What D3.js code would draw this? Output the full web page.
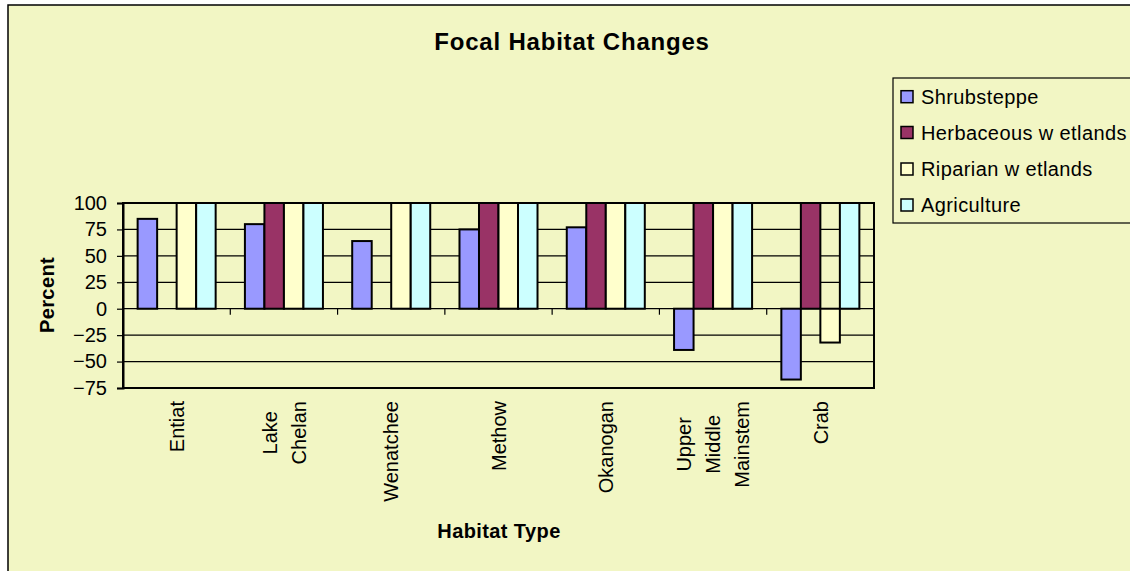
<!DOCTYPE html>
<html>
<head>
<meta charset="utf-8">
<script src="https://cdn.jsdelivr.net/npm/d3@7"></script>
<style>
  html, body { margin: 0; padding: 0; background: #ffffff; }
  svg { display: block; font-family: Arial, "Liberation Sans", sans-serif; }
</style>
</head>
<body>
<svg id="chart" width="1130" height="571"></svg>
<script>
// ---- data ----
const categories = ["Entiat", "Lake Chelan", "Wenatchee", "Methow", "Okanogan", "Upper Middle Mainstem", "Crab"];
const categoryLines = [["Entiat"], ["Lake", "Chelan"], ["Wenatchee"], ["Methow"], ["Okanogan"], ["Upper", "Middle", "Mainstem"], ["Crab"]];
const seriesNames = ["Shrubsteppe", "Herbaceous w etlands", "Riparian w etlands", "Agriculture"];
const shrubsteppe = [85, 80, 64, 75, 77, -39, -67];
const herbaceousWetlands = [null, 100, null, 100, 100, 100, 100];
const riparianWetlands = [100, 100, 100, 100, 100, 100, -32];
const agriculture = [100, 100, 100, 100, 100, 100, 100];
const yTicks = [100, 75, 50, 25, 0, -25, -50, -75];
const seriesColors = ["#9999FF", "#993366", "#FFFFCC", "#CCFFFF"];
const titleText = "Focal Habitat Changes";
const xTitle = "Habitat Type";
const yTitle = "Percent";

const seriesValues = [shrubsteppe, herbaceousWetlands, riparianWetlands, agriculture];
const bg = "#F2F6C4";

const svg = d3.select("#chart");

// chart area background / border (extends beyond right & bottom)
svg.append("rect").attr("x", 8).attr("y", 5).attr("width", 1140).attr("height", 600)
  .attr("fill", bg).attr("stroke", "#000").attr("stroke-width", 1.5);

const plot = { left: 123, right: 874, top: 203, bottom: 388 };

const x = d3.scaleBand().domain(categories).range([plot.left, plot.right]).paddingInner(0).paddingOuter(0);
const xs = d3.scaleBand().domain(seriesNames).range([0, x.bandwidth()]).paddingInner(0).paddingOuter(0.75);
const y = d3.scaleLinear().domain([-75, 100]).range([plot.bottom, plot.top]);

// gridlines
svg.append("g").selectAll("line").data(yTicks.filter(v => v !== 0 && v !== 100 && v !== -75))
  .join("line")
  .attr("x1", plot.left).attr("x2", plot.right)
  .attr("y1", d => y(d)).attr("y2", d => y(d))
  .attr("stroke", "#000").attr("stroke-width", 1.2);

// zero line
svg.append("line").attr("x1", plot.left).attr("x2", plot.right)
  .attr("y1", y(0)).attr("y2", y(0)).attr("stroke", "#000").attr("stroke-width", 1.2);

// x ticks between categories on zero line
svg.append("g").selectAll("line").data(categories.slice(1))
  .join("line")
  .attr("x1", d => x(d)).attr("x2", d => x(d))
  .attr("y1", y(0)).attr("y2", y(0) + 6)
  .attr("stroke", "#000").attr("stroke-width", 1.2);

// bars
const flat = [];
categories.forEach((c, ci) => {
  seriesNames.forEach((s, si) => {
    const v = seriesValues[si][ci];
    if (v !== null && v !== undefined) flat.push({ c, s, si, v });
  });
});
svg.append("g").selectAll("rect").data(flat).join("rect")
  .attr("x", d => x(d.c) + xs(d.s))
  .attr("width", xs.bandwidth())
  .attr("y", d => y(Math.max(0, d.v)))
  .attr("height", d => Math.abs(y(d.v) - y(0)))
  .attr("fill", d => seriesColors[d.si])
  .attr("stroke", "#000").attr("stroke-width", 2);

// plot frame
svg.append("rect").attr("x", plot.left).attr("y", plot.top)
  .attr("width", plot.right - plot.left).attr("height", plot.bottom - plot.top)
  .attr("fill", "none").attr("stroke", "#000").attr("stroke-width", 2);

// y axis
const yAxis = d3.axisLeft(y).tickValues(yTicks).tickSize(6).tickPadding(10).tickFormat(d3.format("d"));
const yg = svg.append("g").attr("transform", `translate(${plot.left},0)`).call(yAxis);
yg.select(".domain").attr("stroke", "#000").attr("stroke-width", 2);
yg.selectAll(".tick line").attr("stroke", "#000").attr("stroke-width", 1.2);
yg.selectAll(".tick text").attr("font-size", 20).attr("fill", "#000")
  .attr("font-family", "Arial, 'Liberation Sans', sans-serif");

// category labels (rotated)
const labelTop = 401;
const lineGap = 29;
categoryLines.forEach((lines, ci) => {
  const cx = x(categories[ci]) + x.bandwidth() / 2;
  const g = svg.append("g").attr("transform", `translate(${cx},${labelTop}) rotate(-90)`);
  const texts = g.selectAll("text").data(lines).join("text")
    .attr("font-size", 20).attr("fill", "#000")
    .attr("text-anchor", "middle")
    .attr("dy", "0.36em")
    .attr("y", (d, i) => (i - (lines.length - 1) / 2) * lineGap)
    .text(d => d);
  let maxLen = 0;
  texts.each(function () { maxLen = Math.max(maxLen, this.getComputedTextLength()); });
  texts.attr("x", -maxLen / 2);
});

// title
svg.append("text").attr("x", 572).attr("y", 50).attr("text-anchor", "middle")
  .attr("font-size", 24).attr("font-weight", "bold").attr("letter-spacing", 0.8).text(titleText);

// axis titles
svg.append("text").attr("x", 499).attr("y", 538).attr("text-anchor", "middle")
  .attr("font-size", 20).attr("font-weight", "bold").attr("letter-spacing", 0.4).text(xTitle);
svg.append("text").attr("transform", `translate(54,295) rotate(-90)`).attr("text-anchor", "middle")
  .attr("font-size", 20).attr("font-weight", "bold").attr("letter-spacing", 0.4).text(yTitle);

// legend
svg.append("rect").attr("x", 893).attr("y", 78).attr("width", 260).attr("height", 145)
  .attr("fill", bg).attr("stroke", "#000").attr("stroke-width", 1.2);
const legendY = [96.7, 132.5, 169, 205];
const lg = svg.append("g").selectAll("g").data(seriesNames).join("g")
  .attr("transform", (d, i) => `translate(901,${legendY[i]})`);
lg.append("rect").attr("x", 0).attr("y", -6).attr("width", 12).attr("height", 12)
  .attr("fill", (d, i) => seriesColors[i]).attr("stroke", "#000").attr("stroke-width", 1.5);
lg.append("text").attr("x", 20).attr("dy", "0.36em").attr("font-size", 20).attr("fill", "#000")
  .attr("letter-spacing", 0.4).text(d => d);
</script>
</body>
</html>
